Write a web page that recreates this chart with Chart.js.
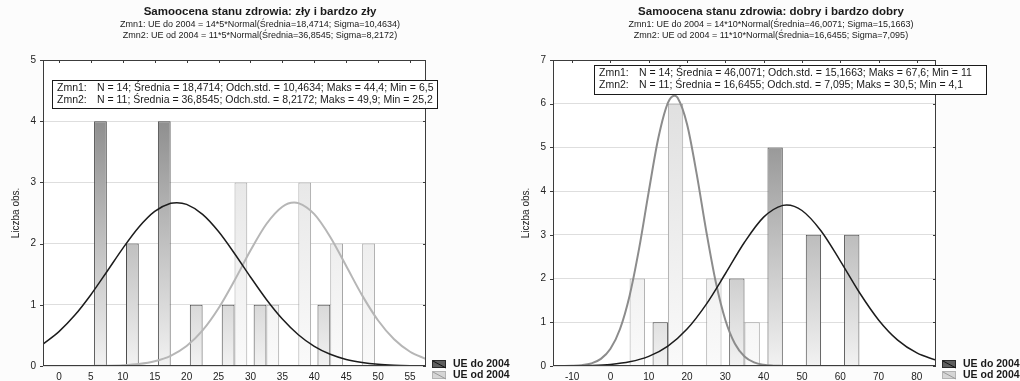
<!DOCTYPE html>
<html>
<head>
<meta charset="utf-8">
<script src="https://cdn.jsdelivr.net/npm/chart.js@4.4.1/dist/chart.umd.min.js"></script>
<style>
  body { margin: 0; background: #fcfcfc; }
  .wrap { position: absolute; top: 0; width: 510px; height: 381px; }
  canvas { display: block; }
</style>
</head>
<body>
<div class="wrap" style="left:0"><canvas id="chartBad" width="510" height="381"></canvas></div>
<div class="wrap" style="left:510px"><canvas id="chartGood" width="510" height="381"></canvas></div>
<script>
// --- left chart: "zły i bardzo zły" ---
const badBins = [7.5, 12.5, 17.5, 22.5, 27.5, 32.5, 37.5, 42.5, 47.5];
const badDo = [4, 2, 4, 1, 1, 1, 0, 1, 0];
const badOd = [0, 0, 0, 0, 3, 1, 3, 2, 2];
const badTicksX = [0, 5, 10, 15, 20, 25, 30, 35, 40, 45, 50, 55];
const badTicksY = [0, 1, 2, 3, 4, 5];
const badCurveDoX = [-2.5, 0, 2.5, 5, 7.5, 10, 12.5, 15, 17.5, 18.47, 20, 22.5, 25, 27.5, 30, 32.5, 35, 37.5, 40, 42.5, 45, 47.5, 50, 52.5, 55, 57.5];
const badCurveDo = [0.358, 0.562, 0.832, 1.165, 1.540, 1.923, 2.268, 2.526, 2.658, 2.669, 2.641, 2.478, 2.197, 1.839, 1.455, 1.087, 0.767, 0.511, 0.321, 0.191, 0.107, 0.057, 0.028, 0.013, 0.006, 0.003];
const badCurveOdX = [5, 7.5, 10, 12.5, 15, 17.5, 20, 22.5, 25, 27.5, 30, 32.5, 35, 36.85, 37.5, 40, 42.5, 45, 47.5, 50, 52.5, 55, 57.5];
const badCurveOd = [0.002, 0.005, 0.013, 0.033, 0.078, 0.167, 0.326, 0.581, 0.943, 1.397, 1.886, 2.320, 2.603, 2.670, 2.662, 2.481, 2.109, 1.634, 1.154, 0.743, 0.436, 0.233, 0.114];

// --- right chart: "dobry i bardzo dobry" ---
const goodBins = [5, 15, 25, 35, 45, 55, 65];
const goodDo = [0, 1, 0, 2, 5, 3, 3];
const goodOd = [2, 6, 2, 1, 0, 0, 0];
const goodTicksX = [-10, 0, 10, 20, 30, 40, 50, 60, 70, 80];
const goodTicksY = [0, 1, 2, 3, 4, 5, 6, 7];
const goodCurveDoX = [-15, -10, -5, 0, 5, 10, 15, 20, 25, 30, 35, 40, 45, 46, 50, 55, 60, 65, 70, 75, 80, 85];
const goodCurveDo = [0.001, 0.004, 0.013, 0.037, 0.095, 0.220, 0.456, 0.846, 1.411, 2.110, 2.830, 3.405, 3.675, 3.683, 3.557, 3.089, 2.406, 1.681, 1.054, 0.592, 0.299, 0.135];
const goodCurveOdX = [-15, -12.5, -10, -7.5, -5, -2.5, 0, 2.5, 5, 7.5, 10, 12.5, 15, 16.65, 17.5, 20, 22.5, 25, 27.5, 30, 32.5, 35, 37.5, 40, 42.5, 45];
const goodCurveOd = [0, 0.001, 0.005, 0.019, 0.059, 0.162, 0.394, 0.847, 1.608, 2.695, 3.989, 5.215, 6.021, 6.185, 6.140, 5.531, 4.401, 3.092, 1.920, 1.053, 0.509, 0.218, 0.082, 0.027, 0.008, 0.002];

const seriesNames = ['UE do 2004', 'UE od 2004'];
const FONT = "'Liberation Sans', Arial, sans-serif";

// gradient spans the whole plot height, like the original
function barFill(top, bottom) {
  return (c) => {
    const a = c.chart.chartArea;
    if (!a) return top;
    const g = c.chart.ctx.createLinearGradient(0, a.top, 0, a.bottom);
    g.addColorStop(0, top);
    g.addColorStop(1, bottom);
    return g;
  };
}

const points = (xs, ys) => xs.map((x, i) => ({ x: x, y: ys[i] }));

// titles, frame, stats box and legend
const decor = {
  id: 'decor',
  beforeDraw(chart) {
    const { ctx, chartArea: a } = chart;
    ctx.save();
    ctx.fillStyle = '#fcfcfc';
    ctx.fillRect(0, 0, chart.width, chart.height);
    ctx.fillStyle = '#ffffff';
    ctx.fillRect(a.left, a.top, a.right - a.left, a.bottom - a.top);
    ctx.restore();
  },
  afterDatasetsDraw(chart) {
    const { ctx, chartArea: a, scales } = chart;
    ctx.save();
    ctx.strokeStyle = '#3c3c3c';
    ctx.lineWidth = 1;
    ctx.strokeRect(Math.round(a.left) + 0.5, Math.round(a.top) + 0.5,
      Math.round(a.right - a.left) - 1, Math.round(a.bottom - a.top) - 1);
    ctx.beginPath();
    scales.x.ticks.forEach((t) => {
      const px = Math.round(scales.x.getPixelForValue(t.value)) + 0.5;
      ctx.moveTo(px, a.top);
      ctx.lineTo(px, a.top + 3);
    });
    scales.y.ticks.forEach((t) => {
      const py = Math.round(scales.y.getPixelForValue(t.value)) + 0.5;
      ctx.moveTo(a.right, py);
      ctx.lineTo(a.right - 3, py);
      ctx.moveTo(a.left, py);
      ctx.lineTo(a.left - 3, py);
    });
    ctx.stroke();
    ctx.restore();
  },
  afterDraw(chart) {
    const o = chart.options.plugins.decor;
    const ctx = chart.ctx;
    ctx.save();
    ctx.fillStyle = '#1a1a1a';
    ctx.textAlign = 'center';
    ctx.textBaseline = 'middle';
    ctx.font = 'bold 11.5px ' + FONT;
    ctx.fillText(o.title, o.titleX, 12);
    ctx.font = '9px ' + FONT;
    ctx.fillText(o.sub[0], o.titleX, 25);
    ctx.fillText(o.sub[1], o.titleX, 36);

    // stats box
    const b = o.box;
    ctx.fillStyle = '#ffffff';
    ctx.fillRect(b.x, b.y, b.w, b.h);
    ctx.strokeStyle = '#1a1a1a';
    ctx.lineWidth = 1;
    ctx.strokeRect(b.x + 0.5, b.y + 0.5, b.w, b.h);
    ctx.fillStyle = '#1a1a1a';
    ctx.textAlign = 'left';
    ctx.font = '10.5px ' + FONT;
    o.stats.forEach((line, i) => {
      const ty = b.y + 8 + i * 11.7;
      ctx.fillText(line[0], b.x + 5, ty);
      ctx.fillText(line[1], b.x + 45, ty);
    });

    // legend
    const sw = [
      { fill: '#5e5e5e', edge: '#2a2a2a', diag: '#111111' },
      { fill: '#d6d6d6', edge: '#b4b4b4', diag: '#9a9a9a' }
    ];
    ctx.font = 'bold 10.5px ' + FONT;
    seriesNames.forEach((name, i) => {
      const sy = 360 + i * 11;
      ctx.fillStyle = sw[i].fill;
      ctx.fillRect(432, sy, 14, 8);
      ctx.strokeStyle = sw[i].edge;
      ctx.strokeRect(432.5, sy + 0.5, 13, 7);
      ctx.strokeStyle = sw[i].diag;
      ctx.beginPath();
      ctx.moveTo(433, sy + 1);
      ctx.lineTo(446, sy + 8);
      ctx.stroke();
      ctx.fillStyle = '#1a1a1a';
      ctx.fillText(name, 453, sy + 4.5);
    });
    ctx.restore();
  }
};

function makeChart(id, d) {
  return new Chart(document.getElementById(id), {
    type: 'bar',
    data: {
      datasets: [
        {
          label: seriesNames[0],
          data: points(d.bins, d.countsDo.map((v) => v || null)),
          backgroundColor: barFill('#767676', '#f2f2f2'),
          borderColor: '#4a4a4a',
          borderWidth: 1,
          barPercentage: 1,
          categoryPercentage: 0.8,
          order: 1
        },
        {
          label: seriesNames[1],
          data: points(d.bins, d.countsOd.map((v) => v || null)),
          backgroundColor: barFill('#dcdcdc', '#fafafa'),
          borderColor: '#a6a6a6',
          borderWidth: 1,
          barPercentage: 1,
          categoryPercentage: 0.8,
          order: 1
        },
        {
          type: 'line',
          data: points(d.curveDoX, d.curveDo),
          borderColor: '#1c1c1c',
          borderWidth: 1.5,
          pointRadius: 0,
          cubicInterpolationMode: 'monotone',
          fill: false,
          order: 0
        },
        {
          type: 'line',
          data: points(d.curveOdX, d.curveOd),
          borderColor: d.odColor,
          borderWidth: 2,
          pointRadius: 0,
          cubicInterpolationMode: 'monotone',
          fill: false,
          order: 0
        }
      ]
    },
    options: {
      responsive: false,
      animation: false,
      events: [],
      layout: { padding: { top: 60, right: 84, left: 0, bottom: 0 } },
      plugins: {
        legend: { display: false },
        tooltip: { enabled: false },
        decor: d.decor
      },
      scales: {
        x: {
          type: 'linear',
          min: d.xMin,
          max: d.xMax,
          offset: false,
          afterBuildTicks: (s) => { s.ticks = d.ticksX.map((v) => ({ value: v })); },
          afterFit: (s) => { s.height = 15; },
          grid: { display: false, drawTicks: false, offset: false },
          border: { display: false },
          ticks: { padding: 5, maxRotation: 0, autoSkip: false, color: '#222', font: { family: FONT, size: 10 } }
        },
        y: {
          min: 0,
          max: d.ticksY[d.ticksY.length - 1],
          afterBuildTicks: (s) => { s.ticks = d.ticksY.map((v) => ({ value: v })); },
          afterFit: (s) => { s.width = 43; },
          grid: { color: '#dedede', drawTicks: false },
          border: { display: false },
          ticks: { padding: 7, color: '#222', font: { family: FONT, size: 10 } },
          title: {
            display: true,
            text: 'Liczba obs.',
            color: '#222',
            font: { family: FONT, size: 10 },
            padding: { top: 10, bottom: 0 }
          }
        }
      }
    },
    plugins: [decor]
  });
}

makeChart('chartBad', {
  bins: badBins, countsDo: badDo, countsOd: badOd,
  curveDoX: badCurveDoX, curveDo: badCurveDo,
  curveOdX: badCurveOdX, curveOd: badCurveOd,
  odColor: '#b6b6b6',
  xMin: -2.5, xMax: 57.5, ticksX: badTicksX, ticksY: badTicksY,
  decor: {
    title: 'Samoocena stanu zdrowia: zły i bardzo zły',
    titleX: 260,
    sub: [
      'Zmn1: UE do 2004 = 14*5*Normal(Średnia=18,4714; Sigma=10,4634)',
      'Zmn2: UE od 2004 = 11*5*Normal(Średnia=36,8545; Sigma=8,2172)'
    ],
    box: { x: 52, y: 80, w: 385, h: 28 },
    stats: [
      ['Zmn1:', 'N = 14; Średnia = 18,4714; Odch.std. = 10,4634; Maks = 44,4; Min = 6,5'],
      ['Zmn2:', 'N = 11; Średnia = 36,8545; Odch.std. = 8,2172; Maks = 49,9; Min = 25,2']
    ]
  }
});

makeChart('chartGood', {
  bins: goodBins, countsDo: goodDo, countsOd: goodOd,
  curveDoX: goodCurveDoX, curveDo: goodCurveDo,
  curveOdX: goodCurveOdX, curveOd: goodCurveOd,
  odColor: '#8c8c8c',
  xMin: -15, xMax: 85, ticksX: goodTicksX, ticksY: goodTicksY,
  decor: {
    title: 'Samoocena stanu zdrowia: dobry i bardzo dobry',
    titleX: 261,
    sub: [
      'Zmn1: UE do 2004 = 14*10*Normal(Średnia=46,0071; Sigma=15,1663)',
      'Zmn2: UE od 2004 = 11*10*Normal(Średnia=16,6455; Sigma=7,095)'
    ],
    box: { x: 84, y: 65, w: 392, h: 29 },
    stats: [
      ['Zmn1:', 'N = 14; Średnia = 46,0071; Odch.std. = 15,1663; Maks = 67,6; Min = 11'],
      ['Zmn2:', 'N = 11; Średnia = 16,6455; Odch.std. = 7,095; Maks = 30,5; Min = 4,1']
    ]
  }
});
</script>
</body>
</html>
